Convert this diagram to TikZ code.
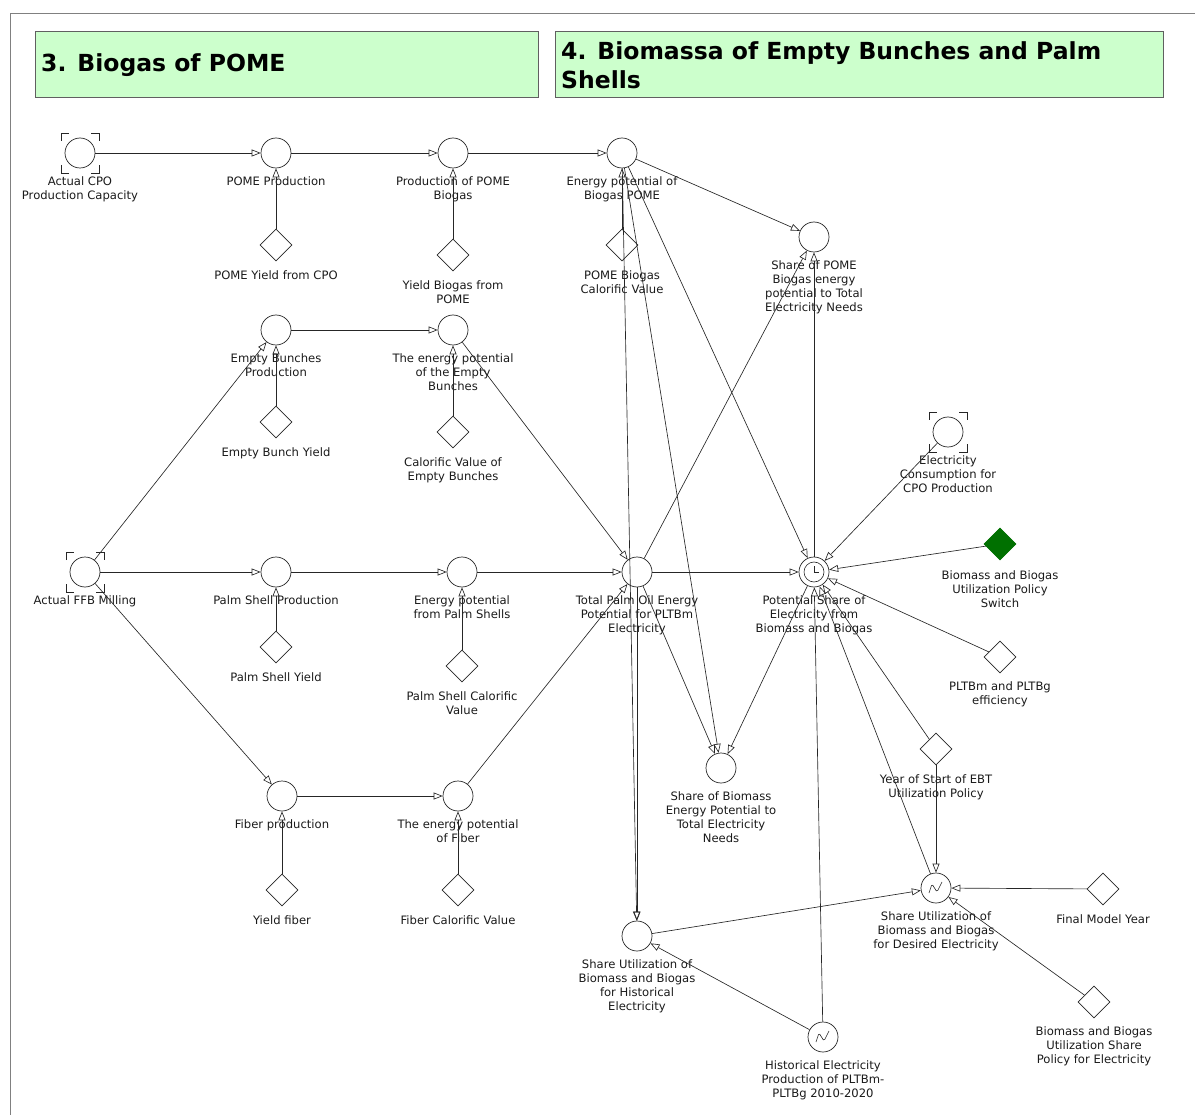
\documentclass[tikz,border=0pt]{standalone}
\usepackage{fontspec}
\setmainfont{DejaVu Sans}
\usetikzlibrary{arrows.meta,shapes.geometric,positioning}
\definecolor{lc}{HTML}{262626}
\definecolor{tc}{HTML}{1A1A1A}
\definecolor{tg}{HTML}{CCFFCC}
\definecolor{bc}{HTML}{606060}
\definecolor{dg}{HTML}{007000}
\definecolor{fc}{HTML}{808080}
\begin{document}
\begin{tikzpicture}[x=1pt,y=-1pt,
  aux/.style={circle,draw=lc,line width=0.7pt,minimum size=30pt,inner sep=0pt},
  cst/.style={diamond,draw=lc,line width=0.7pt,minimum width=32pt,minimum height=32pt,inner sep=0pt},
  lbl/.style={anchor=north,align=center,font=\fontsize{11.6}{14.2}\selectfont,inner sep=0pt,text=tc},
  lnk/.style={draw=lc,line width=0.65pt,-{Triangle[open,length=9pt,width=7pt]}},
  ttlbox/.style={draw=bc,fill=tg,line width=0.8pt},
  ttl/.style={font=\fontsize{23.5}{29}\bfseries\selectfont,align=left,inner sep=0pt,text=black},
  brk/.style={draw=lc,line width=0.7pt},
  icon/.style={draw=lc,line width=0.6pt}
]
\useasboundingbox (0,0) rectangle (1195,1115);
% frame
\draw[fc,line width=0.8pt] (10,1115) -- (10,13) -- (1195,13);
% titles
\node[ttlbox,minimum width=503pt,minimum height=66pt,anchor=north west,inner sep=0pt] (t1box) at (35,31) {};
\node[ttl,anchor=west] (t1) at (41,65) {3. Biogas of POME};
\node[ttlbox,minimum width=608pt,minimum height=66pt,anchor=north west,inner sep=0pt] (t2box) at (555,31) {};
\node[ttl,anchor=north west] (t2) at (561,41) {4. Biomassa of Empty Bunches and Palm\\Shells};

% nodes
\node[aux] (acpo) at (80,153) {};
\node[aux] (pomep) at (276,153) {};
\node[aux] (ppb) at (453,153) {};
\node[aux] (epb) at (622,153) {};
\node[aux] (spome) at (814,237) {};
\node[cst] (pomey) at (276,245) {};
\node[cst] (ybp) at (453,255) {};
\node[cst] (pomec) at (622,245) {};
\node[aux] (ebp) at (276,330) {};
\node[aux] (epeb) at (453,330) {};
\node[cst] (eby) at (276,422) {};
\node[cst] (caleb) at (453,432) {};
\node[aux] (econs) at (948,432) {};
\node[aux] (ffb) at (85,572) {};
\node[aux] (psp) at (276,572) {};
\node[aux] (epps) at (462,572) {};
\node[aux] (tpoe) at (637,572) {};
\node[aux] (pse) at (814,572) {};
\node[cst,fill=dg,draw=dg] (sw) at (1000,544) {};
\node[cst] (psy) at (276,647) {};
\node[cst] (pscal) at (462,666) {};
\node[cst] (eff) at (1000,657) {};
\node[cst] (ys) at (936,749) {};
\node[aux] (sbe) at (721,768) {};
\node[aux] (fp) at (282,796) {};
\node[aux] (epf) at (458,796) {};
\node[cst] (yf) at (282,890) {};
\node[cst] (fcv) at (458,890) {};
\node[aux] (sud) at (936,888) {};
\node[cst] (fmy) at (1103,889) {};
\node[aux] (suh) at (637,936) {};
\node[cst] (bbusp) at (1094,1002) {};
\node[aux] (hep) at (823,1037) {};

% brackets (ghost markers)
\foreach \n in {acpo,econs,ffb}{
  \draw[brk,shift={(\n.center)}] (-19,-12) -- (-19,-20) -- (-11,-20);
  \draw[brk,shift={(\n.center)}] (11,-20) -- (19,-20) -- (19,-12);
  \draw[brk,shift={(\n.center)}] (-19,12) -- (-19,20) -- (-11,20);
  \draw[brk,shift={(\n.center)}] (11,20) -- (19,20) -- (19,12);
}
% clock
\draw[icon] (pse.center) circle (10pt);
\draw[icon] (pse.center) -- ++(0,-6.5);
\draw[icon] (pse.center) -- ++(5,0);
% lookup icons
\foreach \n in {sud,hep}{
  \draw[icon,rounded corners=1.5pt,shift={(\n.center)}] (-7,5) -- (-4,-4) -- (1,4) -- (6,-6);
}

% labels
\node[lbl,below=8pt of acpo] (acpo-l) {Actual CPO\\Production Capacity};
\node[lbl,below=8pt of pomep] (pomep-l) {POME Production};
\node[lbl,below=8pt of ppb] (ppb-l) {Production of POME\\Biogas};
\node[lbl,below=8pt of epb] (epb-l) {Energy potential of\\Biogas POME};
\node[lbl,below=8pt of spome] (spome-l) {Share of POME\\Biogas energy\\potential to Total\\Electricity Needs};
\node[lbl,below=9pt of pomey] (pomey-l) {POME Yield from CPO};
\node[lbl,below=9pt of ybp] (ybp-l) {Yield Biogas from\\POME};
\node[lbl,below=9pt of pomec] (pomec-l) {POME Biogas\\Calorific Value};
\node[lbl,below=8pt of ebp] (ebp-l) {Empty Bunches\\Production};
\node[lbl,below=8pt of epeb] (epeb-l) {The energy potential\\of the Empty\\Bunches};
\node[lbl,below=9pt of eby] (eby-l) {Empty Bunch Yield};
\node[lbl,below=9pt of caleb] (caleb-l) {Calorific Value of\\Empty Bunches};
\node[lbl,below=8pt of econs] (econs-l) {Electricity\\Consumption for\\CPO Production};
\node[lbl,below=8pt of ffb] (ffb-l) {Actual FFB Milling};
\node[lbl,below=8pt of psp] (psp-l) {Palm Shell Production};
\node[lbl,below=8pt of epps] (epps-l) {Energy potential\\from Palm Shells};
\node[lbl,below=8pt of tpoe] (tpoe-l) {Total Palm Oil Energy\\Potential for PLTBm\\Electricity};
\node[lbl,below=8pt of pse] (pse-l) {Potential Share of\\Electricity from\\Biomass and Biogas};
\node[lbl,below=10pt of sw] (sw-l) {Biomass and Biogas\\Utilization Policy\\Switch};
\node[lbl,below=9pt of psy] (psy-l) {Palm Shell Yield};
\node[lbl,below=9pt of pscal] (pscal-l) {Palm Shell Calorific\\Value};
\node[lbl,below=8pt of eff] (eff-l) {PLTBm and PLTBg\\efficiency};
\node[lbl,below=9pt of ys] (ys-l) {Year of Start of EBT\\Utilization Policy};
\node[lbl,below=8pt of sbe] (sbe-l) {Share of Biomass\\Energy Potential to\\Total Electricity\\Needs};
\node[lbl,below=8pt of fp] (fp-l) {Fiber production};
\node[lbl,below=8pt of epf] (epf-l) {The energy potential\\of Fiber};
\node[lbl,below=9pt of yf] (yf-l) {Yield fiber};
\node[lbl,below=9pt of fcv] (fcv-l) {Fiber Calorific Value};
\node[lbl,below=8pt of sud] (sud-l) {Share Utilization of\\Biomass and Biogas\\for Desired Electricity};
\node[lbl,below=9pt of fmy] (fmy-l) {Final Model Year};
\node[lbl,below=8pt of suh] (suh-l) {Share Utilization of\\Biomass and Biogas\\for Historical\\Electricity};
\node[lbl,below=8pt of bbusp] (bbusp-l) {Biomass and Biogas\\Utilization Share\\Policy for Electricity};
\node[lbl,below=8pt of hep] (hep-l) {Historical Electricity\\Production of PLTBm-\\PLTBg 2010-2020};

% connectors
\draw[lnk] (acpo) -- (pomep);
\draw[lnk] (pomep) -- (ppb);
\draw[lnk] (ppb) -- (epb);
\draw[lnk] (pomey) -- (pomep);
\draw[lnk] (ybp) -- (ppb);
\draw[lnk] (pomec) -- (epb);
\draw[lnk] (epb) -- (spome);
\draw[lnk] (epb) -- (sbe);
\draw[lnk] (epb) -- (pse);
\draw[lnk] (epb) -- (suh);
\draw[lnk] (tpoe) -- (spome);
\draw[lnk] (pse) -- (spome);
\draw[lnk] (ebp) -- (epeb);
\draw[lnk] (eby) -- (ebp);
\draw[lnk] (caleb) -- (epeb);
\draw[lnk] (ffb) -- (ebp);
\draw[lnk] (ffb) -- (psp);
\draw[lnk] (ffb) -- (fp);
\draw[lnk] (psp) -- (epps);
\draw[lnk] (psy) -- (psp);
\draw[lnk] (pscal) -- (epps);
\draw[lnk] (epps) -- (tpoe);
\draw[lnk] (epeb) -- (tpoe);
\draw[lnk] (epf) -- (tpoe);
\draw[lnk] (fp) -- (epf);
\draw[lnk] (yf) -- (fp);
\draw[lnk] (fcv) -- (epf);
\draw[lnk] (tpoe) -- (pse);
\draw[lnk] (tpoe) -- (sbe);
\draw[lnk] (pse) -- (sbe);
\draw[lnk] (tpoe) -- (suh);
\draw[lnk] (econs) -- (pse);
\draw[lnk] (sw) -- (pse);
\draw[lnk] (eff) -- (pse);
\draw[lnk] (ys) -- (pse);
\draw[lnk] (sud) -- (pse);
\draw[lnk] (hep) -- (pse);
\draw[lnk] (ys) -- (sud);
\draw[lnk] (fmy) -- (sud);
\draw[lnk] (bbusp) -- (sud);
\draw[lnk] (suh) -- (sud);
\draw[lnk] (hep) -- (suh);
\end{tikzpicture}
\end{document}
